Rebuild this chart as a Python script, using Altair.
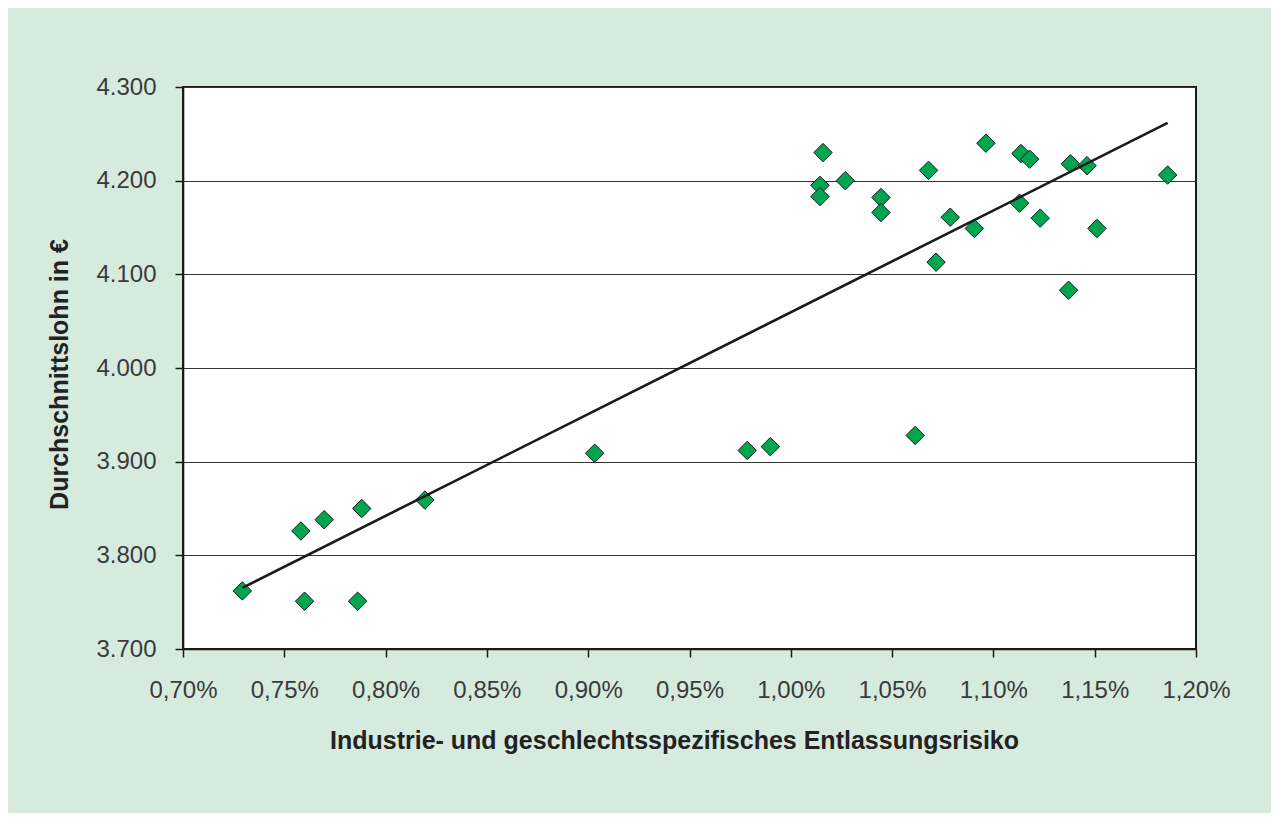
import altair as alt
import pandas as pd

# Industrie- und geschlechtsspezifisches Entlassungsrisiko (in %)
risk = [0.7293, 0.7582, 0.7600, 0.7697, 0.7862, 0.7882, 0.8194, 0.9032,
        0.9785, 0.9899, 1.0614, 1.0159, 1.0144, 1.0144, 1.0269, 1.0445,
        1.0445, 1.0680, 1.0717, 1.0787, 1.0906, 1.0963, 1.1136, 1.1179,
        1.1129, 1.1231, 1.1380, 1.1462, 1.1371, 1.1511, 1.1860]
# Durchschnittslohn in €
wage = [3762, 3826, 3751, 3838, 3751, 3850, 3859, 3909,
        3912, 3916, 3928, 4230, 4195, 4183, 4200, 4182,
        4166, 4211, 4113, 4161, 4149, 4240, 4229, 4223,
        4176, 4160, 4218, 4216, 4083, 4149, 4206]

x_ticks = [0.70, 0.75, 0.80, 0.85, 0.90, 0.95, 1.00, 1.05, 1.10, 1.15, 1.20]
y_ticks = [3700, 3800, 3900, 4000, 4100, 4200, 4300]

x_title = "Industrie- und geschlechtsspezifisches Entlassungsrisiko"
y_title = "Durchschnittslohn in €"

df = pd.DataFrame({"risk": risk, "wage": wage})

FONT = "Liberation Sans"

x_enc = alt.X(
    "risk:Q",
    scale=alt.Scale(domain=[0.70, 1.20], nice=False, zero=False),
    axis=alt.Axis(
        values=x_ticks,
        labelExpr="replace(format(datum.value, '.2f'), '.', ',') + '%'",
        labelOverlap=False,
        labelFlush=False,
        title=x_title,
        grid=False,
        titleX=491,
        titleY=99,
        titleAlign="center",
        titleBaseline="alphabetic",
        labelPadding=21,
    ),
)
y_enc = alt.Y(
    "wage:Q",
    scale=alt.Scale(domain=[3700, 4300], nice=False, zero=False),
    axis=alt.Axis(
        values=y_ticks,
        labelExpr="replace(format(datum.value, ','), ',', '.')",
        labelOverlap=False,
        labelFlush=False,
        title=y_title,
        grid=True,
        gridColor="#333333",
        gridWidth=1,
        titleX=-116,
        titleY=287,
        titleAngle=-90,
        titleAlign="center",
        titleBaseline="alphabetic",
        labelPadding=19,
    ),
)

points = alt.Chart(df).mark_point(
    shape="diamond", filled=True, size=340, color="#00a550",
    stroke="#1a1a1a", strokeWidth=1, opacity=1,
).encode(x=x_enc, y=y_enc)

trend = alt.Chart(df).transform_regression(
    "risk", "wage"
).mark_line(color="#1a1a1a", strokeWidth=2.6).encode(
    x=alt.X("risk:Q"), y=alt.Y("wage:Q")
)

chart = alt.layer(points, trend).properties(
    width=1013,
    height=562,
    background="#d6ebde",
    autosize=alt.AutoSizeParams(type="none"),
    padding={"left": 175, "top": 79, "right": 75, "bottom": 164},
).configure_view(
    fill="white", stroke="#1a1a1a", strokeWidth=2
).configure_axis(
    domainColor="#1a1a1a",
    domainWidth=1.6,
    tickColor="#1a1a1a",
    tickWidth=1.5,
    tickSize=8,
    labelFont=FONT,
    labelFontSize=24,
    labelColor="#3a3a3a",
    titleFont=FONT,
    titleFontSize=25,
    titleFontWeight="bold",
    titleColor="#222222",
)

chart.save("out.html", embed_options={"renderer": "svg", "actions": False})
